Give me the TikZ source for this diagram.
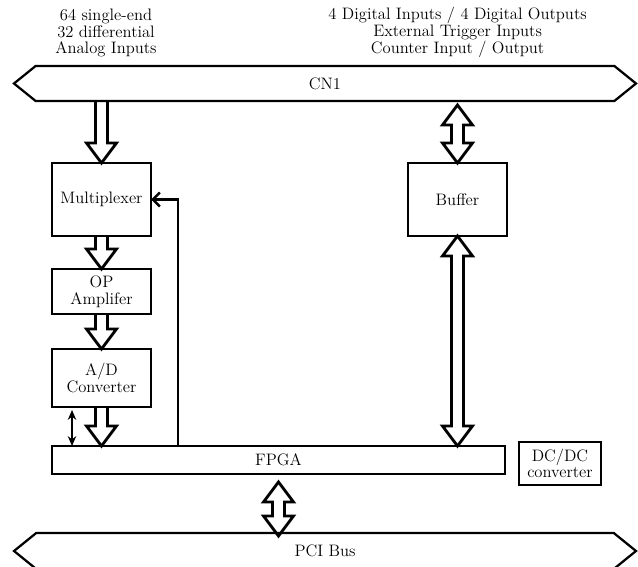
\documentclass[tikz,border=0pt]{standalone}
\usepackage{tikz}
\usetikzlibrary{positioning, calc, shapes.symbols, arrows.meta}

\newcommand{\fatsw}{0.15}
\newcommand{\fathw}{0.375}
\newcommand{\fathl}{0.5}

% hollow block arrows
\newcommand{\fatdown}[2]{%
  \coordinate (fs) at #1; \coordinate (fe) at #2;
  \draw[fat arrow] ($(fs)+(-\fatsw,0)$) -- ($(fe)+(-\fatsw,\fathl)$) -- ($(fe)+(-\fathw,\fathl)$) -- (fe)
    -- ($(fe)+(\fathw,\fathl)$) -- ($(fe)+(\fatsw,\fathl)$) -- ($(fs)+(\fatsw,0)$);}
\newcommand{\fatboth}[2]{%
  \coordinate (fs) at #1; \coordinate (fe) at #2;
  \draw[fat arrow] (fs) -- ($(fs)+(\fathw,-\fathl)$) -- ($(fs)+(\fatsw,-\fathl)$) -- ($(fe)+(\fatsw,\fathl)$)
    -- ($(fe)+(\fathw,\fathl)$) -- (fe) -- ($(fe)+(-\fathw,\fathl)$) -- ($(fe)+(-\fatsw,\fathl)$)
    -- ($(fs)+(-\fatsw,-\fathl)$) -- ($(fs)+(-\fathw,-\fathl)$) -- cycle;}

\begin{document}
\begin{tikzpicture}[line width=2pt, font=\fontsize{11.8}{11.8}\selectfont,
  block node/.style={rectangle,draw,align=center,inner sep=2pt,outer sep=0pt},
  bus node/.style={signal,draw,signal to=west and east,signal pointer angle=78,
    minimum width=15.55cm,outer sep=0pt,line width=1.6pt},
  label node/.style={align=center,inner sep=1pt},
  fat arrow/.style={line width=2pt,line join=miter}]

\useasboundingbox (0,0) rectangle (15.95,-14.175);

\node[bus node, minimum height=0.875cm] (cn1) at (8.125,-2.0875) {CN1};
\node[bus node, minimum height=0.9cm] (pci) at (8.125,-13.775) {PCI Bus};

\node[label node, anchor=south] (anain) at (2.65,-1.5) {64 single-end\\32 differential\\Analog Inputs};
\node[label node, anchor=south] (digio) at (11.44,-1.5) {4 Digital Inputs / 4 Digital Outputs\\External Trigger Inputs\\Counter Input / Output};

\node[block node, minimum width=2.475cm, minimum height=1.825cm] (mux) at (2.5375,-4.9875) {Multiplexer};
\node[block node, minimum width=2.475cm, minimum height=1.125cm] (op) [below=0.825cm of mux] {OP\\Amplifer};
\node[block node, minimum width=2.475cm, minimum height=1.45cm] (adc) [below=0.875cm of op] {A/D\\Converter};
\node[block node, minimum width=11.325cm, minimum height=0.7cm] (fpga) [below right=0.975cm and 0cm of adc.south west] {FPGA};
\node[block node, minimum width=2.475cm, minimum height=1.825cm] (buffer) [right=6.425cm of mux] {Buffer};
\node[block node, minimum width=2.05cm, minimum height=1.075cm] (dcdc) [right=0.35cm of fpga, yshift=-0.0875cm] {DC/DC\\converter};

\fatdown{(cn1.south -| mux.north)}{(mux.north)}
\fatdown{(mux.south)}{(op.north)}
\fatdown{(op.south)}{(adc.north)}
\fatdown{(adc.south)}{(adc.south |- fpga.north)}
\fatboth{($(buffer.north |- cn1.south)+(0,-0.1)$)}{(buffer.north)}
\fatboth{(buffer.south)}{(buffer.south |- fpga.north)}
\fatboth{($(fpga.south)+(0,-0.2)$)}{($(fpga.south |- pci.north)+(0,-0.075)$)}

\coordinate (adsig) at ($(adc.south west)+(0.5,-0.075)$);
\draw[{Stealth[length=7pt,width=6pt]}-{Stealth[length=7pt,width=6pt]}, line width=1.6pt]
  (adsig) -- (adsig |- fpga.north);

\coordinate (fbk) at ($(fpga.north west)+(3.15,0)$);
\draw[-{Straight Barb[length=5pt,width=10pt]}, line width=1.8pt] (fbk) |- (mux.east);

\end{tikzpicture}
\end{document}
